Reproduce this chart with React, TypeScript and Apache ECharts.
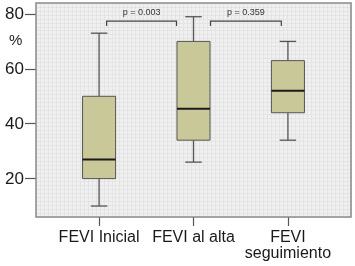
import React, { useEffect, useRef } from 'react';
import * as echarts from 'echarts';

const categories = ['FEVI Inicial', 'FEVI al alta', 'FEVI\nseguimiento'];
const whiskerLow = [10, 26, 34];
const q1 = [20, 34, 44];
const median = [27, 45.5, 52];
const q3 = [50, 70, 63];
const whiskerHigh = [73, 79, 70];
const yTicks = [20, 40, 60, 80];
const catPositions = [0, 1, 2];
const pLabels = ['p = 0.003', 'p = 0.359'];
const bracketFrom = [0.08, 1.18];
const bracketTo = [0.82, 1.93];
const bracketTop = 77.4;
const bracketFoot = 75.6;
const pLabelY = 80.7;

const FONT = '"Liberation Sans", Arial, sans-serif';

export default function App() {
  const ref = useRef<HTMLDivElement>(null);
  useEffect(() => {
    if (!ref.current) return;
    const chart = echarts.init(ref.current, undefined, { renderer: 'svg' });
    const frame = { left: 36, right: 4, top: 3, bottom: 49 };
    const option: any = {
      animation: false,
      textStyle: { fontFamily: FONT },
      grid: [
        { ...frame, show: true, backgroundColor: '#f0f0f0', borderColor: '#8a8a8a', borderWidth: 0, z: 0 },
        { ...frame, show: true, backgroundColor: 'transparent', borderColor: '#8a8a8a', borderWidth: 1.5, z: 3 },
      ],
      xAxis: [
        {
          gridIndex: 0, type: 'value', min: 0, max: 316, interval: 4,
          axisLine: { show: false }, axisTick: { show: false }, axisLabel: { show: false },
          splitLine: { show: true, lineStyle: { color: '#e4e4e4', width: 1 } },
        },
        {
          gridIndex: 1, type: 'value', min: -0.668, max: 2.668,
          axisLine: { show: false, onZero: false }, splitLine: { show: false },
          axisTick: { show: true, customValues: catPositions, length: 9, lineStyle: { color: '#555', width: 1.2 } },
          axisLabel: {
            customValues: catPositions,
            formatter: (v: number) => categories[Math.round(v)],
            fontSize: 16, color: '#1a1a1a', margin: 11, lineHeight: 16, fontFamily: FONT,
          },
        },
      ],
      yAxis: [
        {
          gridIndex: 0, type: 'value', min: 0, max: 216, interval: 4,
          axisLine: { show: false }, axisTick: { show: false }, axisLabel: { show: false },
          splitLine: { show: true, lineStyle: { color: '#e4e4e4', width: 1 } },
        },
        {
          gridIndex: 1, type: 'value', min: 6, max: 84,
          axisLine: { show: false, onZero: false }, splitLine: { show: false },
          axisTick: { show: true, customValues: yTicks, length: 11, lineStyle: { color: '#555', width: 1.2 } },
          axisLabel: { customValues: yTicks, fontSize: 17, color: '#1a1a1a', margin: 12, fontFamily: FONT },
        },
      ],
      graphic: [
        { type: 'text', left: 9, top: 32, style: { text: '%', fontSize: 15, fill: '#1a1a1a', fontFamily: FONT } },
      ],
      series: [
        {
          type: 'custom', xAxisIndex: 1, yAxisIndex: 1, clip: false,
          encode: { x: 0, y: [1, 2, 3, 4, 5] },
          data: categories.map((_, i) => [catPositions[i], whiskerLow[i], q1[i], median[i], q3[i], whiskerHigh[i]]),
          renderItem: (_p: any, api: any) => {
            const x = api.value(0);
            const bw = api.size([0.35, 0])[0];
            const cap = bw * 0.5;
            const pLow = api.coord([x, api.value(1)]);
            const pQ1 = api.coord([x, api.value(2)]);
            const pMed = api.coord([x, api.value(3)]);
            const pQ3 = api.coord([x, api.value(4)]);
            const pHigh = api.coord([x, api.value(5)]);
            const cx = pQ1[0];
            const lineStyle = { stroke: '#555', lineWidth: 1.3 };
            return {
              type: 'group',
              children: [
                { type: 'line', shape: { x1: cx, y1: pHigh[1], x2: cx, y2: pQ3[1] }, style: lineStyle },
                { type: 'line', shape: { x1: cx, y1: pQ1[1], x2: cx, y2: pLow[1] }, style: lineStyle },
                { type: 'line', shape: { x1: cx - cap / 2, y1: pHigh[1], x2: cx + cap / 2, y2: pHigh[1] }, style: lineStyle },
                { type: 'line', shape: { x1: cx - cap / 2, y1: pLow[1], x2: cx + cap / 2, y2: pLow[1] }, style: lineStyle },
                {
                  type: 'rect',
                  shape: { x: cx - bw / 2, y: pQ3[1], width: bw, height: pQ1[1] - pQ3[1] },
                  style: { fill: '#c8c898', stroke: '#555', lineWidth: 1 },
                },
                { type: 'line', shape: { x1: cx - bw / 2, y1: pMed[1], x2: cx + bw / 2, y2: pMed[1] }, style: { stroke: '#1a1a1a', lineWidth: 2 } },
              ],
            };
          },
        },
        {
          type: 'custom', xAxisIndex: 1, yAxisIndex: 1, clip: false,
          encode: { x: [0, 1], y: [2, 3] },
          data: pLabels.map((_, i) => [bracketFrom[i], bracketTo[i], bracketTop, bracketFoot, i]),
          renderItem: (_p: any, api: any) => {
            const a = api.value(0);
            const b = api.value(1);
            const top = api.value(2);
            const foot = api.value(3);
            const i = api.value(4);
            const p1 = api.coord([a, foot]);
            const p2 = api.coord([a, top]);
            const p3 = api.coord([b, top]);
            const p4 = api.coord([b, foot]);
            const t = api.coord([(a + b) / 2, pLabelY]);
            return {
              type: 'group',
              children: [
                { type: 'polyline', shape: { points: [p1, p2, p3, p4] }, style: { stroke: '#444', lineWidth: 1.2, fill: 'none' } },
                {
                  type: 'text', x: t[0], y: t[1],
                  style: { text: pLabels[i], fontSize: 9, fill: '#333', align: 'center', verticalAlign: 'middle', fontFamily: FONT },
                },
              ],
            };
          },
        },
      ],
    };
    chart.setOption(option);
    return () => chart.dispose();
  }, []);
  return <div ref={ref} style={{ position: 'fixed', left: 0, top: 0, width: 355, height: 266 }} />;
}
